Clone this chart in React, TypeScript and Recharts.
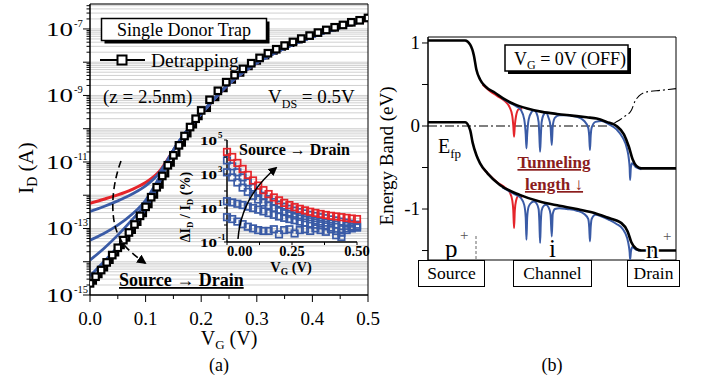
import React from 'react';
import { ComposedChart, Line, XAxis, YAxis, CartesianGrid, ReferenceArea } from 'recharts';

const serif = "'Liberation Serif', 'Times New Roman', Times, serif";
const RED = '#e5252b';
const BLUE = '#3a5ba6';
const MAROON = '#8b1d1d';

// ---------- (a) I_D - V_G at V_DS = 0.5 V, currents stored as log10(I_D / A) ----------
const detrapVg = [0, 0.01, 0.02, 0.03, 0.04, 0.05, 0.06, 0.07, 0.08, 0.09, 0.1, 0.11, 0.12, 0.13, 0.14, 0.15, 0.16, 0.17, 0.18, 0.19, 0.2, 0.215, 0.23, 0.245, 0.26, 0.275, 0.29, 0.305, 0.32, 0.335, 0.35, 0.365, 0.38, 0.395, 0.41, 0.425, 0.44, 0.455, 0.47, 0.485, 0.5];
const detrapLogId = [-14.65, -14.45, -14.25, -14.02, -13.8, -13.58, -13.35, -13.12, -12.88, -12.62, -12.35, -12.06, -11.76, -11.42, -11.1, -10.8, -10.5, -10.22, -9.95, -9.7, -9.45, -9.13, -8.86, -8.6, -8.39, -8.2, -8.03, -7.87, -7.73, -7.61, -7.5, -7.39, -7.29, -7.2, -7.11, -7.03, -6.95, -6.88, -6.8, -6.74, -6.67];

const trapVg = [0, 0.025, 0.05, 0.075, 0.1, 0.125, 0.15, 0.175, 0.2, 0.25, 0.3, 0.35, 0.4, 0.45, 0.5];
const redLogId = [-12.24, -12.12, -11.99, -11.83, -11.62, -11.28, -10.65, -10.05, -9.55, -8.65, -8.02, -7.58, -7.24, -6.96, -6.72];
const blue1LogId = [-12.49, -12.34, -12.17, -11.97, -11.72, -11.32, -10.65, -10.05, -9.55, -8.65, -8.02, -7.58, -7.24, -6.96, -6.72];
const blue2LogId = [-13.35, -13.15, -12.9, -12.58, -12.15, -11.45, -10.65, -10.05, -9.55, -8.65, -8.02, -7.58, -7.24, -6.96, -6.72];
const blue3LogId = [-13.95, -13.6, -13.2, -12.75, -12.25, -11.5, -10.65, -10.05, -9.55, -8.65, -8.02, -7.58, -7.24, -6.96, -6.72];
const blue4LogId = [-14.43, -14.0, -13.55, -13.02, -12.4, -11.6, -10.65, -10.05, -9.55, -8.65, -8.02, -7.58, -7.24, -6.96, -6.72];

const decadeExps = [-15, -14, -13, -12, -11, -10, -9, -8, -7];
const labeledExps = [-15, -13, -11, -9, -7];
const minorMultipliers = [2, 3, 4, 5, 6, 7, 8, 9];
const vgTicks = [0, 0.05, 0.1, 0.15, 0.2, 0.25, 0.3, 0.35, 0.4, 0.45, 0.5];
const vgLabels = ['0.0', '0.1', '0.2', '0.3', '0.4', '0.5'];

// ---------- inset: delta I_D / I_D (%) vs V_G, stored as log10 ----------
const insetVg = [0, 0.02, 0.04, 0.06, 0.08, 0.1, 0.12, 0.14, 0.16, 0.18, 0.2, 0.22, 0.24, 0.26, 0.28, 0.3, 0.32, 0.34, 0.36, 0.38, 0.4, 0.42, 0.44, 0.46, 0.48, 0.5];
const insetRed = [4.3, 4.0, 3.65, 3.3, 2.95, 2.62, 2.32, 2.05, 1.82, 1.62, 1.45, 1.3, 1.17, 1.05, 0.95, 0.86, 0.78, 0.71, 0.65, 0.59, 0.54, 0.5, 0.46, 0.42, 0.38, 0.35];
const insetBlue1 = [3.8, 3.45, 3.1, 2.8, 2.5, 2.2, 1.95, 1.72, 1.52, 1.35, 1.2, 1.07, 0.95, 0.85, 0.76, 0.68, 0.6, 0.53, 0.46, 0.4, 0.33, 0.27, 0.2, 0.14, 0.08, 0.02];
const insetBlue2 = [3.1, 2.8, 2.5, 2.2, 1.95, 1.72, 1.5, 1.32, 1.15, 1.0, 0.88, 0.76, 0.66, 0.56, 0.48, 0.4, 0.33, 0.26, 0.2, 0.14, 0.08, 0.02, -0.25, -0.05, -0.1, -0.12];
const insetBlue3 = [1.4, 1.33, 1.25, 1.17, 1.08, 1.0, 0.9, 0.8, 0.7, 0.6, 0.5, 0.42, 0.35, 0.28, 0.2, 0.14, 0.08, 0.02, -0.02, -0.08, -0.15, -0.35, -0.45, -0.2, -0.1, -0.08];
const insetBlue4 = [0.46, 0.35, 0.2, 0.05, -0.1, -0.2, -0.3, -0.35, -0.35, -0.25, -0.55, -0.3, -0.25, -0.5, -0.3, -0.25, -0.35, -0.2, -0.3, -0.4, -0.25, -0.6, -0.7, -0.3, -0.2, -0.15];
const insetYTicks = [-1, 0, 1, 2, 3, 4, 5];
const insetXTicks = [0, 0.125, 0.25, 0.375, 0.5];

// ---------- (b) energy bands along the device (position in a.u., energy in eV) ----------
const cbPos = [0, 15, 17, 18.5, 19.5, 21, 23, 27, 31, 35, 40, 46, 52, 58, 64, 68, 72, 76, 79, 81, 82.5, 84, 86, 100];
const cbE = [1.03, 1.03, 0.98, 0.85, 0.68, 0.56, 0.48, 0.4, 0.32, 0.26, 0.21, 0.17, 0.145, 0.125, 0.105, 0.09, 0.05, 0.0, -0.1, -0.25, -0.4, -0.48, -0.51, -0.51];
const vbPos = [0, 15, 17, 18, 19.5, 21, 24, 29, 37, 45, 53, 60, 66, 72, 78, 80.5, 82, 84, 86, 100];
const vbE = [0.045, 0.045, -0.05, -0.2, -0.35, -0.45, -0.57, -0.71, -0.83, -0.91, -0.96, -1.0, -1.04, -1.1, -1.17, -1.27, -1.4, -1.48, -1.5, -1.5];
const efpPos = [0, 72, 76, 79, 82, 83.5, 85, 88, 94, 100];
const efpE = [0, 0, 0.05, 0.11, 0.19, 0.3, 0.36, 0.41, 0.43, 0.45];

const trapPos = [30, 33, 35.5, 37.5, 38.8, 39.4, 39.7, 40.0, 40.6, 41.8, 42.7, 43.7, 44.6, 44.9, 45.2, 45.5, 45.8, 46.7, 47.6, 48.6, 49.4, 49.9, 50.3, 51.2, 53, 56, 60, 63, 64.6, 65.0, 65.3, 65.6, 66.0, 67.5, 70, 73, 76, 78.5, 80.3, 81.0, 81.3, 81.5, 81.8, 82.3, 84, 86];
const trapCbE = [0.33, 0.28, 0.24, 0.19, 0.08, -0.1, -0.27, -0.1, 0.08, 0.17, 0.19, 0.16, 0.05, -0.12, -0.31, -0.12, 0.04, 0.14, 0.16, 0.1, 0.0, -0.23, 0.0, 0.1, 0.13, 0.13, 0.11, 0.06, -0.02, -0.12, -0.29, -0.12, -0.02, 0.05, 0.06, 0.02, -0.04, -0.14, -0.28, -0.4, -0.5, -0.65, -0.5, -0.45, -0.5, -0.52];
const trapVbE = [-0.74, -0.79, -0.83, -0.87, -0.95, -1.1, -1.37, -1.1, -0.97, -0.92, -0.91, -0.93, -1.0, -1.15, -1.41, -1.15, -1.02, -0.96, -0.95, -0.98, -1.06, -1.33, -1.06, -1.0, -0.99, -1.0, -1.02, -1.06, -1.12, -1.22, -1.39, -1.22, -1.12, -1.07, -1.09, -1.13, -1.18, -1.24, -1.35, -1.45, -1.52, -1.61, -1.52, -1.46, -1.49, -1.5];
const nearPos = [22, 25, 28, 31, 33, 34, 34.4, 34.7, 35.0, 35.5, 36.5, 38];
const nearCbE = [0.5, 0.42, 0.36, 0.3, 0.22, 0.12, 0.0, -0.13, 0.0, 0.12, 0.2, 0.21];
const nearVbE = [-0.5, -0.6, -0.68, -0.74, -0.8, -0.9, -1.02, -1.23, -1.02, -0.9, -0.84, -0.86];
const bandTicks = [1, 0.5, 0, -0.5, -1, -1.5];

const detrapRows = detrapVg.map((v, i) => ({ v, id: detrapLogId[i] }));
const trapRows = trapVg.map((v, i) => ({
  v, red: redLogId[i], b1: blue1LogId[i], b2: blue2LogId[i], b3: blue3LogId[i], b4: blue4LogId[i],
}));
const insetRows = insetVg.map((v, i) => ({
  v, red: insetRed[i], b1: insetBlue1[i], b2: insetBlue2[i], b3: insetBlue3[i], b4: insetBlue4[i],
}));
const zip = (xs: number[], ys: number[]) => xs.map((u, i) => ({ u, e: ys[i] }));

const mainYTicks: number[] = [];
decadeExps.forEach((d) => {
  mainYTicks.push(d);
  minorMultipliers.forEach((m) => {
    const t = d + Math.log10(m);
    if (t <= -6.25) mainYTicks.push(t);
  });
});

const square = (color: string, size: number, sw: number, fill = 'none') => (p: any) => {
  const { cx, cy, index } = p;
  if (typeof cx !== 'number' || typeof cy !== 'number') return <g key={`n${index}`} />;
  return (
    <rect key={`q${index}`} x={cx - size / 2} y={cy - size / 2} width={size} height={size}
      fill={fill} stroke={color} strokeWidth={sw} />
  );
};

const MainYTick = (props: any) => {
  const { x, y, payload } = props;
  const v = payload.value as number;
  const exp = Math.round(v);
  const major = Math.abs(v - exp) < 1e-6;
  return (
    <g>
      <line x1={x} x2={x - (major ? 7 : 3.5)} y1={y} y2={y} stroke="#000" />
      {major && labeledExps.includes(exp) && (
        <g fontFamily={serif} fill="#000">
          <text x={x - 44} y={y + 7} fontSize={18} textLength={27} lengthAdjust="spacingAndGlyphs">10</text>
          <text x={x - 16} y={y - 2} fontSize={10.5}>{exp}</text>
        </g>
      )}
    </g>
  );
};

const MainXTick = (props: any) => {
  const { x, y, payload } = props;
  const v = payload.value as number;
  const k = Math.round(v * 10);
  const major = Math.abs(v * 10 - k) < 1e-6;
  return (
    <g>
      <line x1={x} x2={x} y1={y} y2={y + (major ? 7 : 4)} stroke="#000" />
      {major && (
        <text x={x} y={y + 30} textAnchor="middle" fontFamily={serif} fontSize={19} fill="#000">{vgLabels[k]}</text>
      )}
    </g>
  );
};

const InsetYTick = (props: any) => {
  const { x, y, payload } = props;
  const v = payload.value as number;
  return (
    <g>
      <line x1={x} x2={x - 3} y1={y} y2={y} stroke="#000" />
      {Math.abs(v % 2) === 1 && (
        <g fontFamily={serif} fontWeight="bold" fill="#000">
          <text x={x - 27} y={y + 5} fontSize={12.5} textLength={17} lengthAdjust="spacingAndGlyphs">10</text>
          <text x={x - 9} y={y - 2} fontSize={9}>{v}</text>
        </g>
      )}
    </g>
  );
};

const InsetXTick = (props: any) => {
  const { x, y, payload } = props;
  const v = payload.value as number;
  const label = v === 0 ? '0.00' : v === 0.25 ? '0.25' : v === 0.5 ? '0.50' : '';
  return (
    <g>
      <line x1={x} x2={x} y1={y} y2={y + 3} stroke="#000" />
      {label && (
        <text x={x} y={y + 14} textAnchor={v === 0 ? 'start' : 'middle'} fontFamily={serif}
          fontWeight="bold" fontSize={14.5} fill="#000">{label}</text>
      )}
    </g>
  );
};

const BandYTick = (props: any) => {
  const { x, y, payload } = props;
  const v = payload.value as number;
  return (
    <g>
      <line x1={x} x2={x - 6} y1={y} y2={y} stroke="#000" />
      {Number.isInteger(v) && (
        <text x={x - 8} y={y + 6} textAnchor="end" fontFamily={serif} fontSize={19} fill="#000">{v === -1 ? '-1' : v}</text>
      )}
    </g>
  );
};

const IdPanel = () => (
  <ComposedChart width={380} height={340} margin={{ top: 4, right: 12, bottom: 0, left: 0 }}>
    <CartesianGrid vertical={false} stroke="#d0d0d0" />
    <XAxis type="number" dataKey="v" domain={[0, 0.5]} ticks={vgTicks} interval={0} height={45}
      tick={MainXTick} tickLine={false} tickSize={0} tickMargin={0} axisLine={{ stroke: '#000' }} allowDataOverflow />
    <YAxis type="number" domain={[-15, -6.25]} ticks={mainYTicks} interval={0} width={90}
      tick={MainYTick} tickLine={false} tickSize={0} tickMargin={0} axisLine={{ stroke: '#000' }} allowDataOverflow />
    <ReferenceArea x1={0} x2={0.5} y1={-15} y2={-6.25} fill="none" stroke="#000" strokeWidth={1} />
    <Line data={detrapRows} dataKey="id" type="stepAfter" stroke="#000" strokeWidth={3}
      dot={square('#000', 6.5, 2.2, '#fff')} activeDot={false} isAnimationActive={false} />
    <Line data={trapRows} dataKey="red" type="monotone" stroke={RED} strokeWidth={3} dot={false} isAnimationActive={false} />
    <Line data={trapRows} dataKey="b1" type="monotone" stroke={BLUE} strokeWidth={2.8} dot={false} isAnimationActive={false} />
    <Line data={trapRows} dataKey="b2" type="monotone" stroke={BLUE} strokeWidth={2.8} dot={false} isAnimationActive={false} />
    <Line data={trapRows} dataKey="b3" type="monotone" stroke={BLUE} strokeWidth={2.8} dot={false} isAnimationActive={false} />
    <Line data={trapRows} dataKey="b4" type="monotone" stroke={BLUE} strokeWidth={2.8} dot={false} isAnimationActive={false} />
  </ComposedChart>
);

const InsetPanel = () => (
  <ComposedChart width={218} height={155} data={insetRows} margin={{ top: 15, right: 21, bottom: 0, left: 0 }}>
    <XAxis type="number" dataKey="v" domain={[0, 0.5]} ticks={insetXTicks} interval={0} height={38}
      tick={InsetXTick} tickLine={false} tickSize={0} tickMargin={0} axisLine={{ stroke: '#000', strokeWidth: 1.5 }} />
    <YAxis type="number" domain={[-1, 5]} ticks={insetYTicks} interval={0} width={67}
      tick={InsetYTick} tickLine={false} tickSize={0} tickMargin={0} axisLine={{ stroke: '#000', strokeWidth: 1.5 }} />
    <Line dataKey="b4" stroke="none" dot={square(BLUE, 6.5, 1.7)} activeDot={false} isAnimationActive={false} />
    <Line dataKey="b3" stroke="none" dot={square(BLUE, 6.5, 1.7)} activeDot={false} isAnimationActive={false} />
    <Line dataKey="b2" stroke="none" dot={square(BLUE, 6.5, 1.7)} activeDot={false} isAnimationActive={false} />
    <Line dataKey="b1" stroke="none" dot={square(BLUE, 6.5, 1.7)} activeDot={false} isAnimationActive={false} />
    <Line dataKey="red" stroke="none" dot={square(RED, 6.5, 1.7)} activeDot={false} isAnimationActive={false} />
  </ComposedChart>
);

const BandPanel = () => (
  <ComposedChart width={312} height={240} margin={{ top: 7, right: 6, bottom: 10, left: 0 }}>
    <XAxis type="number" dataKey="u" domain={[0, 100]} hide />
    <YAxis type="number" domain={[-1.614, 1.072]} ticks={bandTicks} interval={0} width={58}
      tick={BandYTick} tickLine={false} tickSize={0} tickMargin={0} axisLine={{ stroke: '#000' }} allowDataOverflow />
    <ReferenceArea x1={0} x2={100} y1={-1.614} y2={1.072} fill="none" stroke="#000" strokeWidth={1} />
    <Line data={zip(efpPos, efpE)} dataKey="e" type="monotone" stroke="#000" strokeWidth={1.1}
      strokeDasharray="9 3 2 3" dot={false} isAnimationActive={false} />
    <Line data={zip(nearPos, nearCbE)} dataKey="e" type="monotone" stroke={RED} strokeWidth={2} dot={false} isAnimationActive={false} />
    <Line data={zip(nearPos, nearVbE)} dataKey="e" type="monotone" stroke={RED} strokeWidth={2} dot={false} isAnimationActive={false} />
    <Line data={zip(trapPos, trapCbE)} dataKey="e" type="monotone" stroke={BLUE} strokeWidth={2} dot={false} isAnimationActive={false} />
    <Line data={zip(trapPos, trapVbE)} dataKey="e" type="monotone" stroke={BLUE} strokeWidth={2} dot={false} isAnimationActive={false} />
    <Line data={zip(cbPos, cbE)} dataKey="e" type="monotone" stroke="#000" strokeWidth={2.6} dot={false} isAnimationActive={false} />
    <Line data={zip(vbPos, vbE)} dataKey="e" type="monotone" stroke="#000" strokeWidth={2.6} dot={false} isAnimationActive={false} />
  </ComposedChart>
);

const Annotations = () => (
  <svg width={702} height={381} style={{ position: 'absolute', left: 0, top: 0, pointerEvents: 'none' }}
    fontFamily={serif} fill="#000">
    <defs>
      <marker id="head" viewBox="0 0 10 10" refX="8" refY="5" markerWidth="6" markerHeight="6" orient="auto">
        <path d="M0,0 L10,5 L0,10 z" fill="#000" />
      </marker>
    </defs>

    {/* (a) */}
    <rect x={104.5} y={21.5} width={165} height={22} fill="#000" />
    <rect x={101.5} y={18.5} width={165} height={22} fill="#fff" stroke="#000" strokeWidth={1.5} />
    <text x={184} y={35.5} textAnchor="middle" fontSize={18}>Single Donor Trap</text>
    <line x1={100} x2={145} y1={60} y2={60} stroke="#000" strokeWidth={2} />
    <rect x={117.5} y={55.5} width={9} height={9} fill="#fff" stroke="#000" strokeWidth={2} />
    <text x={151} y={67} fontSize={19.5}>Detrapping</text>
    <text x={103} y={103} fontSize={19}>(z = 2.5nm)</text>
    <text x={268} y={103} fontSize={19}>V<tspan fontSize={12} dy={5}>DS</tspan><tspan dy={-5}> = 0.5V</tspan></text>

    <path d="M121,161 C112,185 110,214 117,232 C121,243 128,251 145,263" fill="none" stroke="#000"
      strokeWidth={1.6} strokeDasharray="7 4" markerEnd="url(#head)" />
    <text x={119} y={286} fontSize={18} fontWeight="bold" textDecoration="underline">Source → Drain</text>

    <text x={239} y={155} fontSize={16} fontWeight="bold">Source → Drain</text>
    <path d="M238,239 C240,212 252,188 276,168" fill="none" stroke="#000" strokeWidth={1.5} markerEnd="url(#head)" />
    <text transform="translate(190,207) rotate(-90)" textAnchor="middle" fontSize={14} fontWeight="bold">
      ΔI<tspan fontSize={9} dy={3}>D</tspan><tspan dy={-3}> / I</tspan><tspan fontSize={9} dy={3}>D</tspan><tspan dy={-3}> (%)</tspan>
    </text>
    <text x={291} y={272} textAnchor="middle" fontSize={14.5} fontWeight="bold">
      V<tspan fontSize={9.5} dy={3}>G</tspan><tspan dy={-3}> (V)</tspan>
    </text>

    <text transform="translate(33,168) rotate(-90)" textAnchor="middle" fontSize={21}>
      I<tspan fontSize={14} dy={4}>D</tspan><tspan dy={-4}> (A)</tspan>
    </text>
    <text x={229} y={345} textAnchor="middle" fontSize={20}>
      V<tspan fontSize={13} dy={4}>G</tspan><tspan dy={-4}> (V)</tspan>
    </text>
    <text x={219} y={371} textAnchor="middle" fontSize={18}>(a)</text>

    {/* (b) */}
    <text transform="translate(393,156) rotate(-90)" textAnchor="middle" fontSize={19}>Energy Band (eV)</text>
    <rect x={508} y={48} width={123} height={26} fill="#000" />
    <rect x={505} y={45} width={123} height={26} fill="#fff" stroke="#000" strokeWidth={1.5} />
    <text x={514} y={65} fontSize={18}>V<tspan fontSize={12} dy={4}>G</tspan><tspan dy={-4}> = 0V (OFF)</tspan></text>
    <text x={438} y={153} fontSize={20}>E<tspan fontSize={13} dy={5}>fp</tspan></text>
    <text x={554} y={168} textAnchor="middle" fontSize={17} fontWeight="bold" fill={MAROON} textDecoration="underline">Tunneling</text>
    <text x={554} y={190} textAnchor="middle" fontSize={17} fontWeight="bold" fill={MAROON} textDecoration="underline">length ↓</text>

    <line x1={476} x2={476} y1={236} y2={260} stroke="#666" strokeDasharray="3 2" />
    <text x={445} y={257} fontSize={25}>p</text>
    <text x={460} y={240} fontSize={15} fill="#555">+</text>
    <text x={549} y={257} fontSize={25}>i</text>
    <text x={646} y={258} fontSize={25} stroke="#fff" strokeWidth={4} paintOrder="stroke">n</text>
    <text x={663} y={241} fontSize={15} fill="#555">+</text>

    <rect x={418.5} y={260.5} width={66} height={26} fill="#fff" stroke="#000" />
    <text x={451.5} y={279} textAnchor="middle" fontSize={17.5}>Source</text>
    <rect x={513.5} y={260.5} width={78} height={26} fill="#fff" stroke="#000" />
    <text x={552.5} y={279} textAnchor="middle" fontSize={17.5}>Channel</text>
    <rect x={627.5} y={260.5} width={52} height={26} fill="#fff" stroke="#000" />
    <text x={653.5} y={279} textAnchor="middle" fontSize={17.5}>Drain</text>
    <text x={552} y={371} textAnchor="middle" fontSize={18}>(b)</text>
  </svg>
);

export default function App() {
  return (
    <div style={{ position: 'absolute', left: 0, top: 0, width: 702, height: 381, background: '#fff', overflow: 'hidden' }}>
      <div style={{ position: 'absolute', left: 0, top: 0 }}><IdPanel /></div>
      <div style={{ position: 'absolute', left: 160, top: 125 }}><InsetPanel /></div>
      <div style={{ position: 'absolute', left: 370, top: 30 }}><BandPanel /></div>
      <Annotations />
    </div>
  );
}
